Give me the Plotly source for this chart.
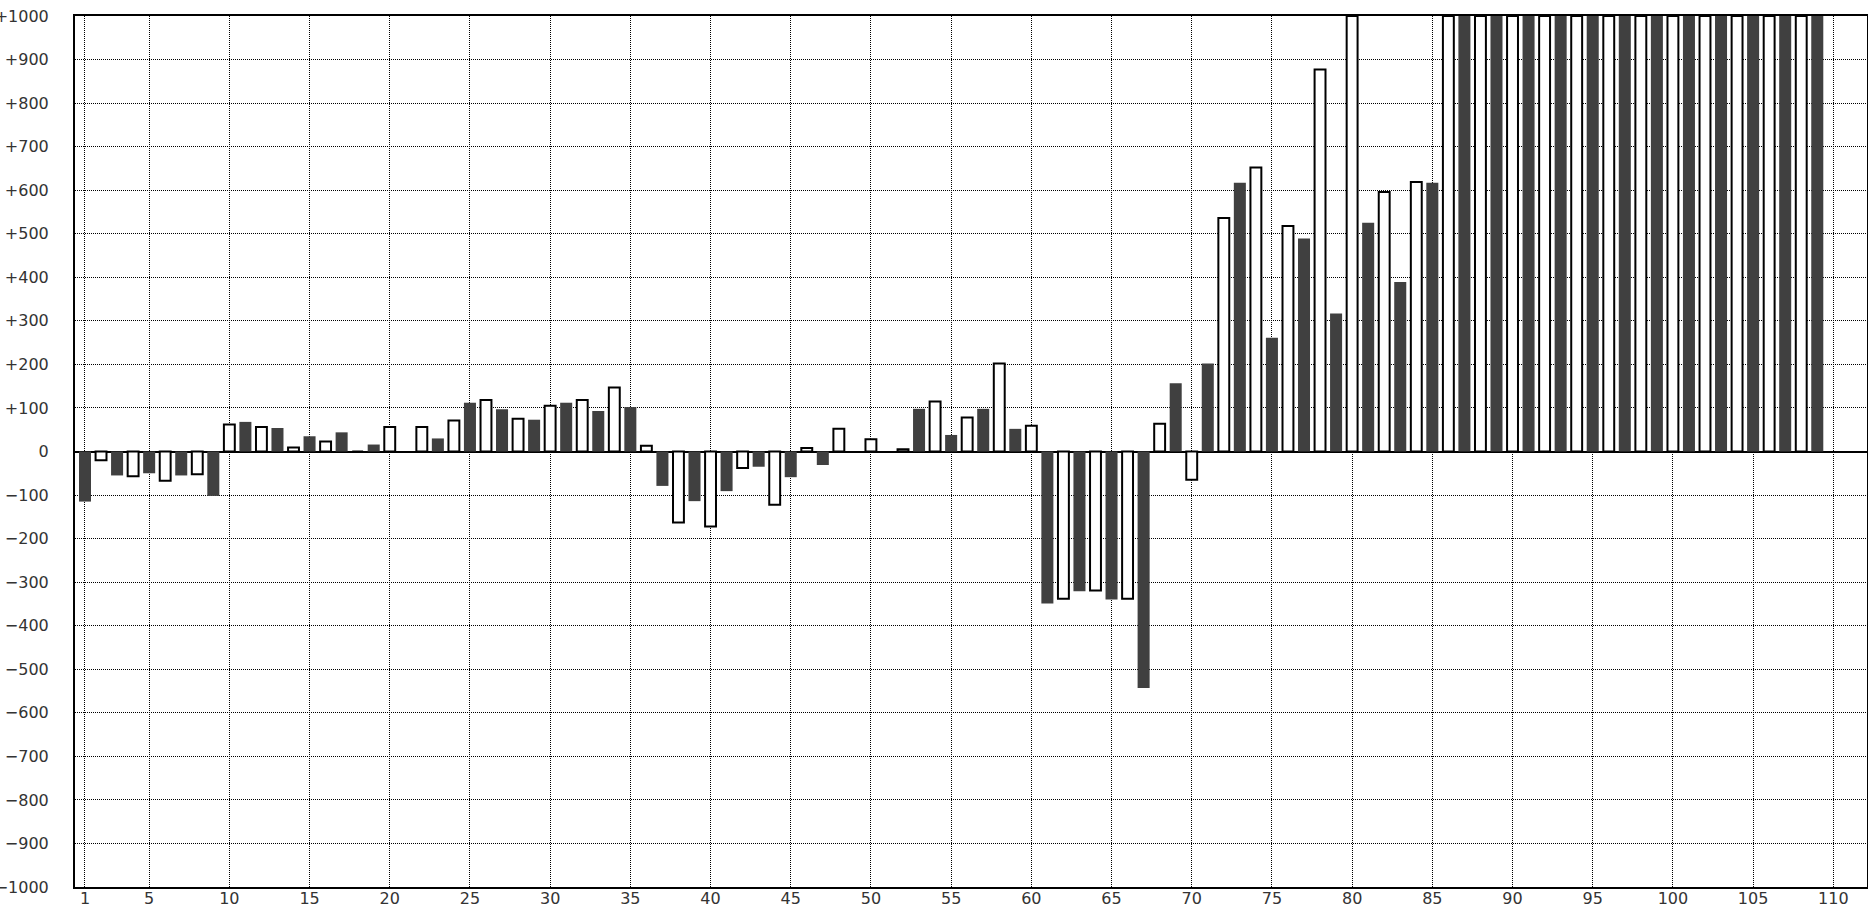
import plotly.graph_objects as go

# Category positions (1..109) and values
positions = list(range(1, 110))
values = [
    -115, -20, -55, -57, -50, -67, -55, -52, -102, 62,      # 1-10
    68, 56, 54, 9, 35, 23, 44, 0, 16, 56,                   # 11-20
    0, 56, 30, 71, 112, 118, 97, 75, 73, 105,               # 21-30
    112, 118, 93, 147, 102, 13, -79, -163, -114, -172,      # 31-40
    -91, -38, -35, -122, -59, 8, -31, 52, 0, 28,            # 41-50
    0, 5, 98, 115, 38, 78, 98, 202, 52, 59,                 # 51-60
    -349, -338, -321, -319, -340, -338, -543, 64, 157, -65, # 61-70
    202, 536, 617, 652, 261, 518, 489, 877, 317, 1000,      # 71-80
    525, 596, 389, 619, 617, 1000, 1000, 1000, 1000, 1000,  # 81-90
    1000, 1000, 1000, 1000, 1000, 1000, 1000, 1000, 1000, 1000,  # 91-100
    1000, 1000, 1000, 1000, 1000, 1000, 1000, 1000, 1000,   # 101-109
]

x_tickvals = [1, 5, 10, 15, 20, 25, 30, 35, 40, 45, 50, 55, 60, 65, 70, 75,
              80, 85, 90, 95, 100, 105, 110]
x_ticktext = [str(v) for v in x_tickvals]
y_tickvals = [1000, 900, 800, 700, 600, 500, 400, 300, 200, 100, 0,
              -100, -200, -300, -400, -500, -600, -700, -800, -900, -1000]
y_ticktext = ["+1000", "+900", "+800", "+700", "+600", "+500", "+400", "+300",
              "+200", "+100", "0", "\u2212100", "\u2212200", "\u2212300",
              "\u2212400", "\u2212500", "\u2212600", "\u2212700", "\u2212800",
              "\u2212900", "\u22121000"]

dark_x = [p for p in positions if p % 2 == 1]
dark_y = [v for p, v in zip(positions, values) if p % 2 == 1]
white_x = [p for p in positions if p % 2 == 0]
white_y = [v for p, v in zip(positions, values) if p % 2 == 0]

fig = go.Figure()
fig.add_trace(go.Bar(
    x=dark_x, y=dark_y, width=0.75,
    marker=dict(color="#404040", line=dict(width=0)),
    hoverinfo="x+y", showlegend=False,
))
fig.add_trace(go.Bar(
    x=white_x, y=white_y, width=0.68,
    marker=dict(color="#ffffff", line=dict(color="#000000", width=2)),
    hoverinfo="x+y", showlegend=False,
))

grid = dict(showgrid=True, gridcolor="#000000", gridwidth=1, griddash="1px,1px")

fig.update_layout(
    width=1868, height=908,
    margin=dict(l=75, r=1, t=16, b=21, autoexpand=False),
    barmode="overlay",
    paper_bgcolor="#ffffff", plot_bgcolor="#ffffff",
    font=dict(family="DejaVu Sans", size=16, color="#333333"),
    xaxis=dict(
        range=[0.377, 112.1], tickmode="array", tickvals=x_tickvals,
        ticktext=x_ticktext, ticks="", showline=True, linecolor="#000000",
        linewidth=2, mirror=True, zeroline=False, fixedrange=True,
        ticklabelstandoff=-4, **grid,
    ),
    yaxis=dict(
        range=[-1000, 1000], tickmode="array", tickvals=y_tickvals,
        ticktext=y_ticktext, ticks="", showline=True, linecolor="#000000",
        linewidth=2, mirror=True, zeroline=True, zerolinecolor="#000000",
        zerolinewidth=2, fixedrange=True, ticklabelstandoff=21, **grid,
    ),
)

fig.write_html(
    "out.html",
    config={"displayModeBar": False},
    post_script="document.body.style.margin='0';document.body.style.overflow='hidden';",
)
